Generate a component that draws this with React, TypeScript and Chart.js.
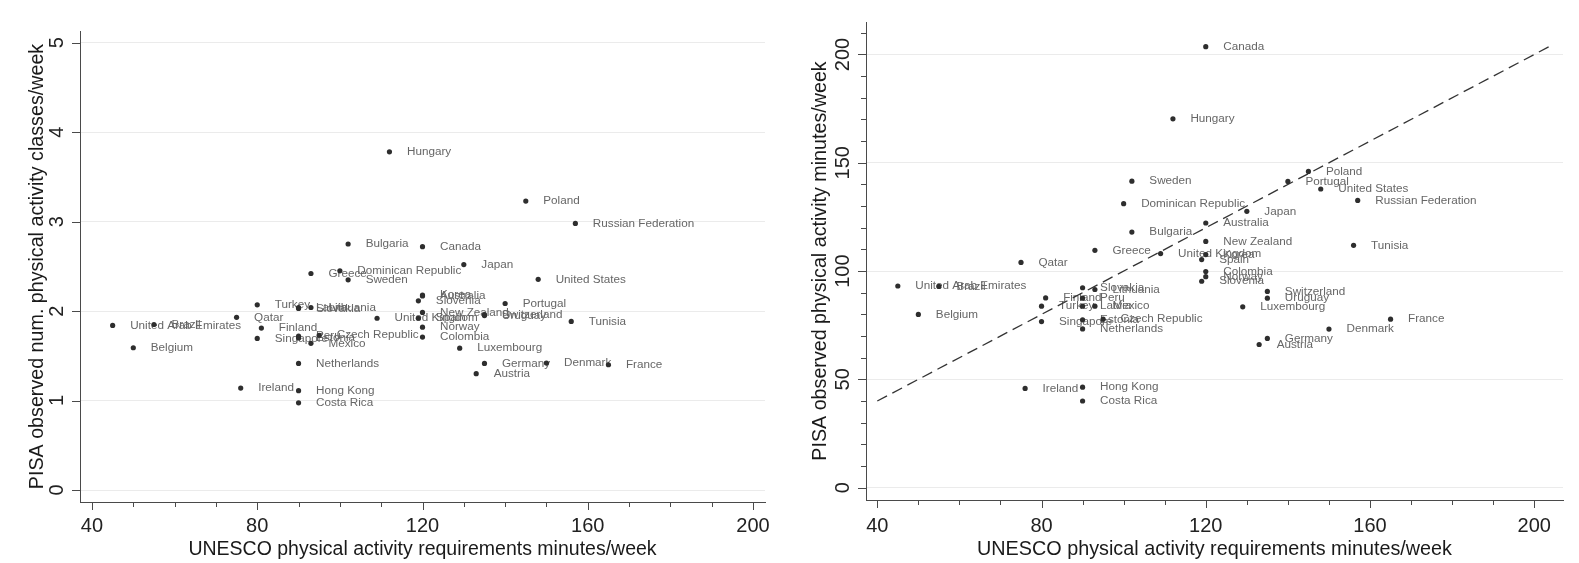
import React, { useEffect, useRef } from "react";
import { Chart, registerables } from "chart.js";

Chart.register(...registerables);

const FONT = '"Liberation Sans", Arial, Helvetica, sans-serif';
Chart.defaults.font.family = FONT;

const countries = [
  "Hungary", "Poland", "Russian Federation", "Bulgaria", "Canada", "Japan", "Greece",
  "Dominican Republic", "Sweden", "United States", "Korea", "Australia", "Slovenia",
  "Turkey", "Latvia", "Lithuania", "Slovakia", "Portugal", "Qatar", "United Arab Emirates",
  "Brazil", "New Zealand", "Switzerland", "Uruguay", "United Kingdom", "Spain", "Tunisia",
  "Finland", "Norway", "Singapore", "Peru", "Estonia", "Czech Republic", "Mexico",
  "Colombia", "Belgium", "Luxembourg", "Netherlands", "Germany", "Denmark", "France",
  "Austria", "Ireland", "Hong Kong", "Costa Rica",
];
const unescoMinutes = [
  112, 145, 157, 102, 120, 130, 93,
  100, 102, 148, 120, 120, 119,
  80, 90, 93, 90, 140, 75, 45,
  55, 120, 135, 135, 109, 119, 156,
  81, 120, 80, 90, 90, 95, 93,
  120, 50, 129, 90, 135, 150, 165,
  133, 76, 90, 90,
];
const pisaClasses = [
  3.78, 3.23, 2.98, 2.75, 2.72, 2.52, 2.42,
  2.45, 2.35, 2.355, 2.18, 2.17, 2.115,
  2.07, 2.04, 2.04, 2.03, 2.085, 1.93, 1.84,
  1.85, 1.985, 1.96, 1.95, 1.92, 1.92, 1.885,
  1.81, 1.82, 1.695, 1.72, 1.70, 1.73, 1.64,
  1.71, 1.59, 1.585, 1.415, 1.415, 1.42, 1.40,
  1.30, 1.14, 1.11, 0.975,
];
const pisaMinutes = [
  170.3, 146, 132.6, 118, 203.6, 127.6, 109.6,
  131.1, 141.5, 137.9, 107.6, 122.2, 95.3,
  83.8, 83.8, 91.5, 92.3, 141.4, 104, 93.1,
  92.9, 113.7, 90.6, 87.5, 108.1, 105.3, 111.9,
  87.6, 97.4, 76.7, 87.5, 77.5, 77.8, 83.8,
  99.8, 80, 83.5, 73.3, 68.9, 73.2, 77.8,
  66.1, 45.8, 46.4, 40,
];

const xMajorTicks = [40, 80, 120, 160, 200];
const xMinorTicks = [50, 60, 70, 90, 100, 110, 130, 140, 150, 170, 180, 190];
const classesTicks = [0, 1, 2, 3, 4, 5];
const minutesTicks = [0, 50, 100, 150, 200];
const minutesMinorTicks = [10, 20, 30, 40, 60, 70, 80, 90, 110, 120, 130, 140, 160, 170, 180, 190, 210];
const equalityLine = [40, 204];

const xTitle = "UNESCO physical activity requirements minutes/week";
const leftYTitle = "PISA observed num. physical activity classes/week";
const rightYTitle = "PISA observed physical activity minutes/week";

const AXIS = "#4a4a4a";
const GRID = "#ebebeb";
const TICK_TEXT = "#222222";
const LABEL_TEXT = "#666666";
const DOT = "#2e2e2e";

type Panel = {
  yMajor: number[];
  yMinor: number[];
  pointIndex: number;
};

function decorPlugin(p: Panel) {
  return {
    id: "decor",
    beforeDatasetsDraw(chart: any) {
      const ctx = chart.ctx;
      const meta = chart.getDatasetMeta(p.pointIndex);
      ctx.save();
      ctx.font = `11.7px ${FONT}`;
      ctx.fillStyle = LABEL_TEXT;
      ctx.textAlign = "left";
      ctx.textBaseline = "middle";
      meta.data.forEach((pt: any, i: number) => {
        ctx.fillText(countries[i], pt.x + 17.5, pt.y);
      });
      ctx.restore();
    },
    afterDraw(chart: any) {
      const ctx = chart.ctx;
      const ca = chart.chartArea;
      const xs = chart.scales.x;
      const ys = chart.scales.y;
      ctx.save();
      ctx.strokeStyle = AXIS;
      ctx.lineWidth = 1;
      ctx.beginPath();
      for (const v of xMajorTicks) {
        const px = Math.round(xs.getPixelForValue(v)) + 0.5;
        ctx.moveTo(px, ca.bottom);
        ctx.lineTo(px, ca.bottom + 8);
      }
      for (const v of xMinorTicks) {
        const px = Math.round(xs.getPixelForValue(v)) + 0.5;
        ctx.moveTo(px, ca.bottom);
        ctx.lineTo(px, ca.bottom + 5);
      }
      for (const v of p.yMajor) {
        const py = Math.round(ys.getPixelForValue(v)) + 0.5;
        ctx.moveTo(ca.left, py);
        ctx.lineTo(ca.left - 8, py);
      }
      for (const v of p.yMinor) {
        const py = Math.round(ys.getPixelForValue(v)) + 0.5;
        ctx.moveTo(ca.left, py);
        ctx.lineTo(ca.left - 5, py);
      }
      ctx.stroke();
      ctx.fillStyle = TICK_TEXT;
      ctx.font = `20px ${FONT}`;
      ctx.textAlign = "center";
      ctx.textBaseline = "middle";
      for (const v of p.yMajor) {
        ctx.save();
        ctx.translate(ca.left - 22.7, ys.getPixelForValue(v));
        ctx.rotate(-Math.PI / 2);
        ctx.fillText(String(v), 0, 0);
        ctx.restore();
      }
      ctx.restore();
    },
  };
}

function xScale(min: number, max: number, height: number, pad: number, titleSize: number) {
  return {
    type: "linear",
    min,
    max,
    afterBuildTicks: (s: any) => {
      s.ticks = xMajorTicks.map((v) => ({ value: v }));
    },
    afterFit: (s: any) => {
      s.height = height;
    },
    grid: { display: false, drawTicks: false },
    border: { display: true, color: AXIS, width: 1 },
    ticks: {
      padding: pad,
      autoSkip: false,
      maxRotation: 0,
      minRotation: 0,
      color: TICK_TEXT,
      font: { size: 20, family: FONT },
      callback: (v: any) => String(v),
    },
    title: {
      display: true,
      text: xTitle,
      color: "#1a1a1a",
      font: { size: titleSize, family: FONT },
      padding: { top: 0, bottom: 1.5 },
    },
  };
}

function yScale(min: number, max: number, ticks: number[], width: number, title: string, titlePad: number) {
  return {
    type: "linear",
    min,
    max,
    afterBuildTicks: (s: any) => {
      s.ticks = ticks.map((v) => ({ value: v }));
    },
    afterFit: (s: any) => {
      s.width = width;
    },
    grid: { display: true, drawOnChartArea: true, drawTicks: false, color: GRID, lineWidth: 1 },
    border: { display: true, color: AXIS, width: 1 },
    ticks: { display: false },
    title: {
      display: true,
      text: title,
      color: "#1a1a1a",
      font: { size: 19.7, family: FONT },
      padding: { top: titlePad, bottom: 0 },
    },
  };
}

export default function App() {
  const leftRef = useRef<HTMLCanvasElement>(null);
  const rightRef = useRef<HTMLCanvasElement>(null);

  useEffect(() => {
    const points = (ys: number[]) => countries.map((_, i) => ({ x: unescoMinutes[i], y: ys[i] }));

    const left = new Chart(leftRef.current as HTMLCanvasElement, {
      type: "scatter",
      data: {
        datasets: [
          {
            data: points(pisaClasses),
            pointRadius: 2.6,
            pointBackgroundColor: DOT,
            pointBorderWidth: 0,
            showLine: false,
          },
        ],
      },
      options: {
        animation: false,
        responsive: false,
        events: [],
        layout: { padding: { top: 31, right: 24, left: 0, bottom: 0 } },
        plugins: { legend: { display: false }, tooltip: { enabled: false } },
        scales: {
          x: xScale(37.1, 202.9, 61, 12.7, 19.5),
          y: yScale(-0.134, 5.131, classesTicks, 80, leftYTitle, 25.8),
        },
      } as any,
      plugins: [decorPlugin({ yMajor: classesTicks, yMinor: [], pointIndex: 0 })],
    });

    const right = new Chart(rightRef.current as HTMLCanvasElement, {
      type: "scatter",
      data: {
        datasets: [
          {
            data: points(pisaMinutes),
            pointRadius: 2.6,
            pointBackgroundColor: DOT,
            pointBorderWidth: 0,
            showLine: false,
            order: 0,
          },
          {
            data: equalityLine.map((v) => ({ x: v, y: v })),
            showLine: true,
            pointRadius: 0,
            borderColor: "#333333",
            borderWidth: 1.3,
            borderDash: [11, 6],
            fill: false,
            order: 1,
          },
        ],
      },
      options: {
        animation: false,
        responsive: false,
        events: [],
        layout: { padding: { top: 22, right: 16, left: 0, bottom: 0 } },
        plugins: { legend: { display: false }, tooltip: { enabled: false } },
        scales: {
          x: xScale(37.25, 207, 63, 14, 19.8),
          y: yScale(-5.7, 215, minutesTicks, 77, rightYTitle, 19.8),
        },
      } as any,
      plugins: [decorPlugin({ yMajor: minutesTicks, yMinor: minutesMinorTicks, pointIndex: 0 })],
    });

    return () => {
      left.destroy();
      right.destroy();
    };
  }, []);

  return (
    <div style={{ position: "fixed", left: 0, top: 0, width: 1579, height: 563, background: "#ffffff" }}>
      <div style={{ position: "absolute", left: 0, top: 0, width: 789, height: 563 }}>
        <canvas ref={leftRef} width={789} height={563} style={{ display: "block", width: 789, height: 563 }} />
      </div>
      <div style={{ position: "absolute", left: 789, top: 0, width: 790, height: 563 }}>
        <canvas ref={rightRef} width={790} height={563} style={{ display: "block", width: 790, height: 563 }} />
      </div>
    </div>
  );
}
